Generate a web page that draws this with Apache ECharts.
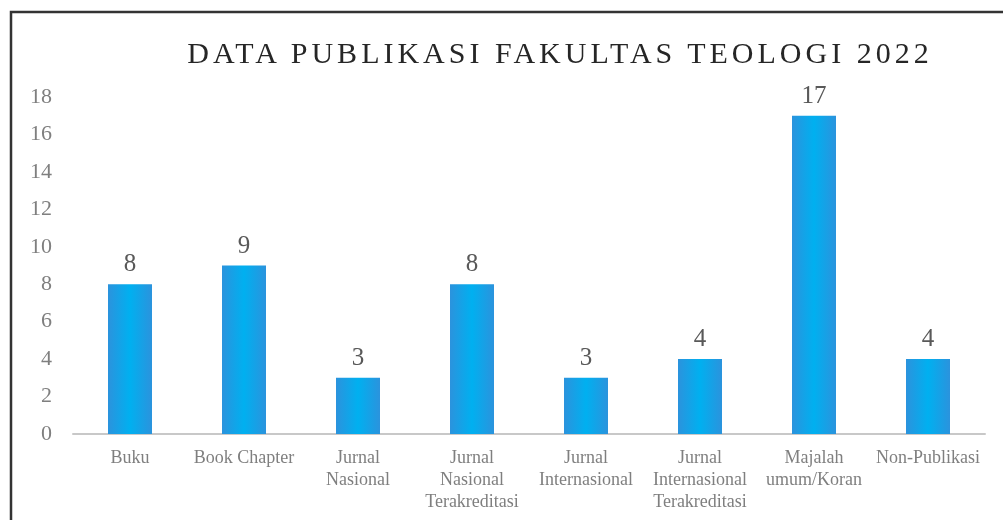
<!DOCTYPE html>
<html>
<head>
<meta charset="utf-8">
<script src="https://cdn.jsdelivr.net/npm/echarts@6/dist/echarts.min.js"></script>
<style>
  html, body { margin: 0; padding: 0; background: #fff; }
  .wrap { position: relative; width: 1003px; height: 520px; }
  #chart { width: 1003px; height: 520px; }
  /* title sits over the chart because the canvas text has no letter spacing */
  .title {
    position: absolute; left: 4px; top: 38px; width: 1112px;
    text-align: center; white-space: nowrap;
    font-family: "Liberation Serif", "Times New Roman", serif;
    font-size: 30px; line-height: 30px; letter-spacing: 4px; color: #262626;
  }
</style>
</head>
<body>
<div class="wrap">
  <div id="chart"></div>
  <div class="title" id="title"></div>
</div>
<script>
// data
const categories = ['Buku', 'Book Chapter', 'Jurnal\nNasional', 'Jurnal\nNasional\nTerakreditasi',
  'Jurnal\nInternasional', 'Jurnal\nInternasional\nTerakreditasi', 'Majalah\numum/Koran', 'Non-Publikasi'];
const values = [8, 9, 3, 8, 3, 4, 17, 4];
const titleText = 'DATA PUBLIKASI FAKULTAS TEOLOGI 2022';

const serif = '"Liberation Serif", "Times New Roman", serif';
document.getElementById('title').textContent = titleText;
const myChart = echarts.init(document.getElementById('chart'));

const option = {
  animation: false,
  grid: { left: 73, right: 18, top: 97, bottom: 86 },
  xAxis: {
    type: 'category',
    data: categories,
    axisLine: { lineStyle: { color: '#c8c8c8', width: 2 } },
    axisTick: { show: false },
    axisLabel: { fontFamily: serif, fontSize: 18, color: '#7f7f7f', lineHeight: 22, margin: 13, interval: 0 }
  },
  yAxis: {
    type: 'value',
    min: 0,
    max: 18,
    interval: 2,
    splitLine: { show: false },
    axisLabel: { fontFamily: serif, fontSize: 22, color: '#7f7f7f', margin: 21 }
  },
  series: [{
    type: 'bar',
    data: values,
    barWidth: 44,
    itemStyle: {
      color: new echarts.graphic.LinearGradient(0, 0, 1, 0, [
        { offset: 0, color: '#2b93dd' },
        { offset: 0.5, color: '#00b0f0' },
        { offset: 1, color: '#2b93dd' }
      ])
    },
    label: { show: true, position: 'top', distance: 7, fontFamily: serif, fontSize: 25, color: '#595959' }
  }],
  graphic: [{
    type: 'polyline',
    shape: { points: [[11, 520], [11, 12], [1003, 12]] },
    style: { stroke: '#333', lineWidth: 2.5, fill: null }
  }]
};

myChart.setOption(option);
</script>
</body>
</html>
